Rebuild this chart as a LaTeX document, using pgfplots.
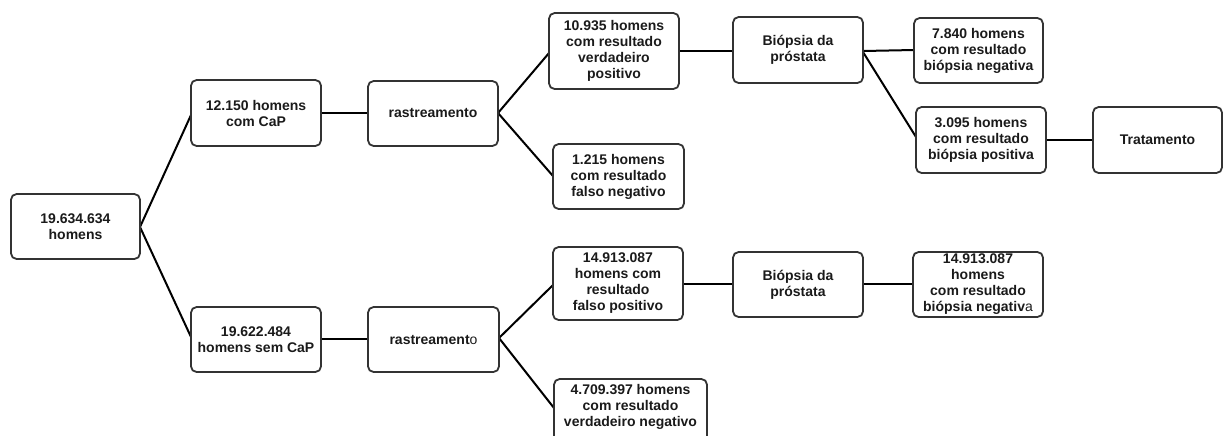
\documentclass[border=0pt]{standalone}
\usepackage{fontspec}
\setmainfont{Liberation Sans}
\usepackage{pgfplots}
\pgfplotsset{compat=1.18}
\definecolor{boxc}{HTML}{333333}
\definecolor{txt}{HTML}{1A1A1A}
\tikzset{lab/.style={font={\fontsize{7}{8}\selectfont\bfseries}, text=txt, align=center, inner sep=0pt}}
\newcommand{\boxat}[4]{% x1 x2 y1 y2
  \addplot[boxc, line width=0.9pt, rounded corners=2.8pt] coordinates {(#1/2+#2/2,#3) (#2,#3) (#2,#4) (#1,#4) (#1,#3) (#1/2+#2/2,#3)};}
\begin{document}
\begin{tikzpicture}
\begin{axis}[
  width=612pt, height=217.5pt, scale only axis,
  xmin=0, xmax=1224, ymin=0, ymax=435, y dir=reverse,
  hide axis, clip=true,
]
% connecting lines
\addplot[black, line width=1pt] coordinates {(140,227) (191,115)};
\addplot[black, line width=1pt] coordinates {(140,227) (191,337)};
\addplot[black, line width=1pt] coordinates {(321,113) (368,113)};
\addplot[black, line width=1pt] coordinates {(321,339) (368,339)};
\addplot[black, line width=1pt] coordinates {(498,113) (549,53)};
\addplot[black, line width=1pt] coordinates {(498,113) (553,176)};
\addplot[black, line width=1pt] coordinates {(679,51) (733,51)};
\addplot[black, line width=1pt] coordinates {(863,51) (914,50)};
\addplot[black, line width=1pt] coordinates {(863,52) (916,137)};
\addplot[black, line width=1pt] coordinates {(1046,140) (1093,140)};
\addplot[black, line width=1pt] coordinates {(499,338) (553,285)};
\addplot[black, line width=1pt] coordinates {(499,338) (554,408)};
\addplot[black, line width=1pt] coordinates {(683,284) (733,284)};
\addplot[black, line width=1pt] coordinates {(863,284) (913,284)};
% boxes
\boxat{11}{140}{194}{259}
\boxat{191}{321}{80}{146}
\boxat{191}{321}{307}{372}
\boxat{368}{498}{81}{146}
\boxat{368}{499}{307}{372}
\boxat{549}{679}{13}{89}
\boxat{553}{684}{144}{209}
\boxat{733}{863}{17}{83}
\boxat{914}{1043}{18}{83}
\boxat{916}{1046}{107}{173}
\boxat{1093}{1222}{107}{173}
\boxat{553}{683}{247}{320}
\boxat{554}{707}{379}{450}
\boxat{733}{863}{252}{317}
\boxat{913}{1043}{252}{317}
% texts
\node[lab] at (axis cs:75.5,226.5) {19.634.634\\homens};
\node[lab] at (axis cs:256,113) {12.150 homens\\com CaP};
\node[lab] at (axis cs:256,339.5) {19.622.484\\homens sem CaP};
\node[lab] at (axis cs:433,113) {rastreamento};
\node[lab] at (axis cs:433.5,339.5) {rastreament{\mdseries o}};
\node[lab] at (axis cs:614,51) {10.935 homens\\com resultado\\verdadeiro\\positivo};
\node[lab] at (axis cs:618.5,176.5) {1.215 homens\\com resultado\\falso negativo};
\node[lab] at (axis cs:798,50) {Biópsia da\\próstata};
\node[lab] at (axis cs:978.5,50.5) {7.840 homens\\com resultado\\biópsia negativa};
\node[lab] at (axis cs:981,140) {3.095 homens\\com resultado\\biópsia positiva};
\node[lab] at (axis cs:1157.5,140) {Tratamento};
\node[lab] at (axis cs:618,283.5) {14.913.087\\homens com\\resultado\\falso positivo};
\node[lab, anchor=north] at (axis cs:630.5,384) {4.709.397 homens\\com resultado\\verdadeiro negativo};
\node[lab] at (axis cs:798,284.5) {Biópsia da\\próstata};
\node[lab] at (axis cs:978,284.5) {14.913.087\\homens\\com resultado\\biópsia negativ{\mdseries a}};
\end{axis}
\pgfresetboundingbox
\useasboundingbox (current axis.south west) rectangle (current axis.north east);
\end{tikzpicture}
\end{document}
